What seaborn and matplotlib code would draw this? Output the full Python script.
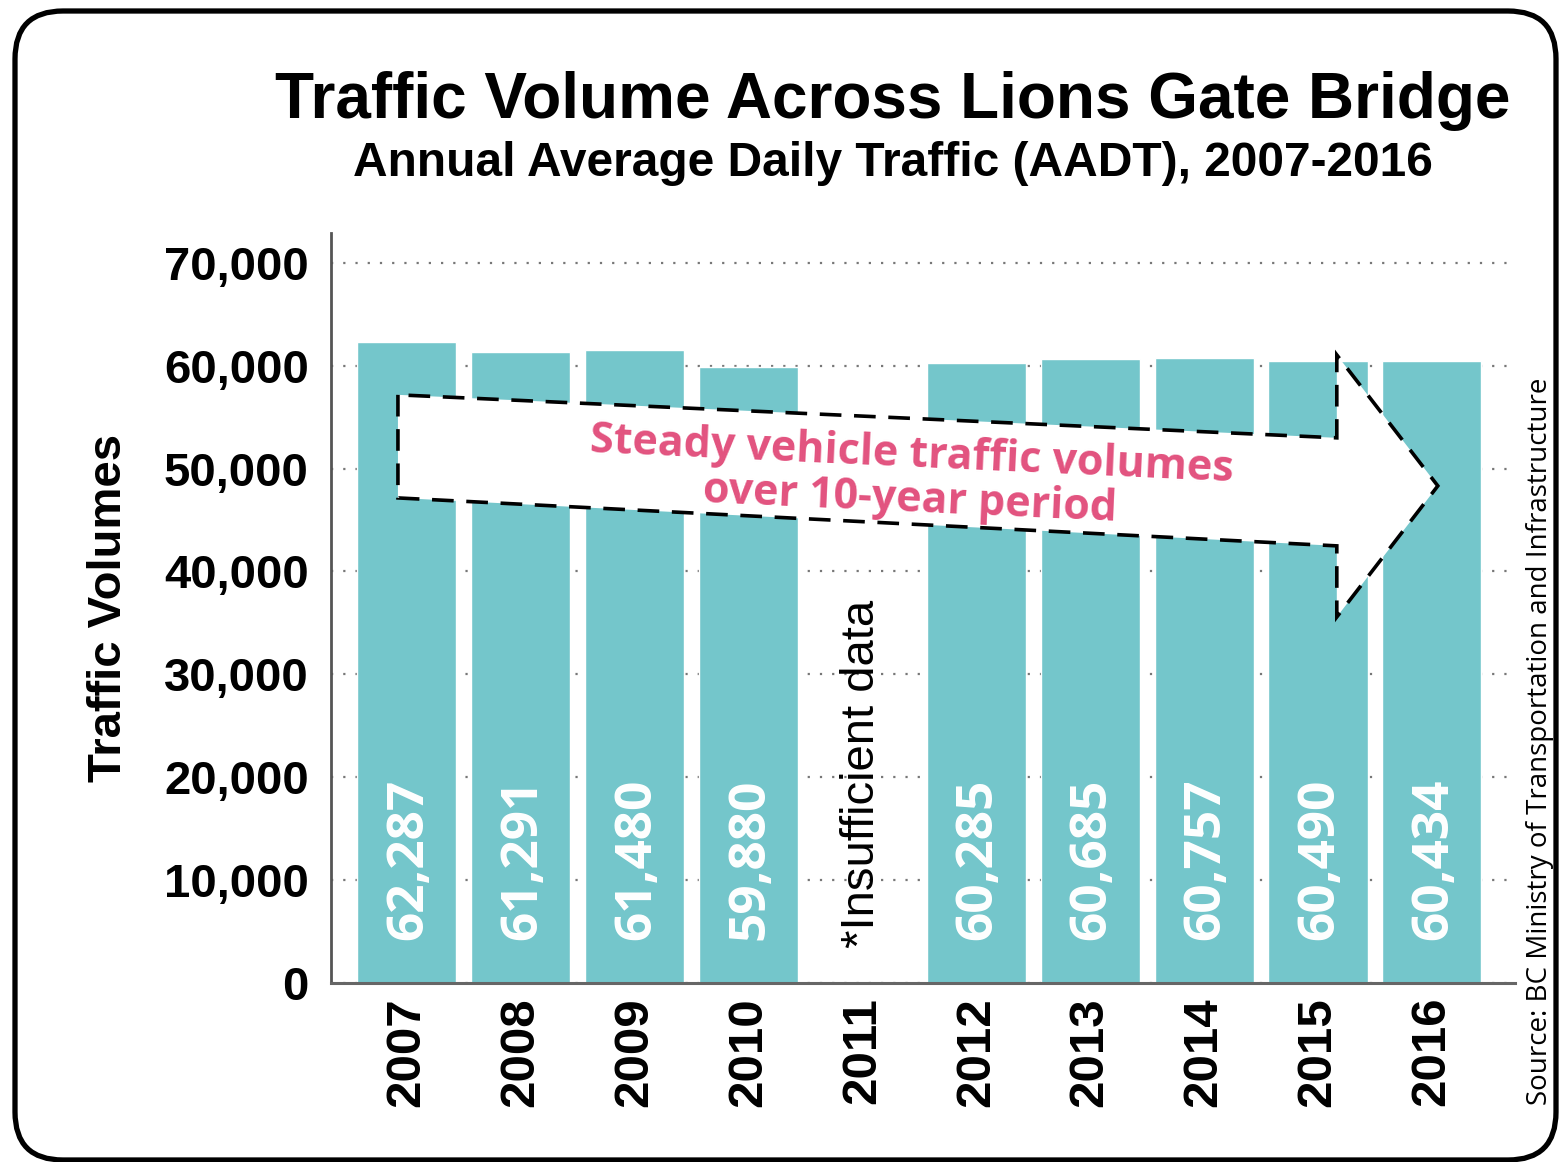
import matplotlib
matplotlib.use("Agg")
import matplotlib.pyplot as plt
import matplotlib.transforms as mtransforms
from matplotlib.patches import FancyBboxPatch, Polygon
import numpy as np
import pandas as pd
import seaborn as sns

# data
years = ["2007", "2008", "2009", "2010", "2011", "2012", "2013", "2014", "2015", "2016"]
aadt = [62287, 61291, 61480, 59880, np.nan, 60285, 60685, 60757, 60490, 60434]
y_ticks = [0, 10000, 20000, 30000, 40000, 50000, 60000, 70000]

BAR = "#74C6CB"
PINK = "#E2527F"

df = pd.DataFrame({"year": years, "aadt": aadt})

sns.set_style("white")
plt.rcParams["font.family"] = ["Liberation Sans", "DejaVu Sans"]
plt.rcParams["text.color"] = "black"
plt.rcParams["axes.labelcolor"] = "black"
plt.rcParams["xtick.color"] = "black"
plt.rcParams["ytick.color"] = "black"

fig = plt.figure(figsize=(15.59, 11.62), dpi=100)
ax = fig.add_axes([0.2123, 0.154, 0.9718 - 0.2123, 0.7995 - 0.154])

sns.barplot(data=df, x="year", y="aadt", order=years, color=BAR, saturation=1,
            width=0.87, ax=ax, zorder=2)

ax.set_xlim(-0.667, 9.73)
ax.set_ylim(0, 72900)
ax.set_yticks(y_ticks)
ax.set_yticklabels(["{:,}".format(v) for v in y_ticks], fontsize=34, fontweight="bold")
ax.set_xticks(range(len(years)))
ax.set_xticklabels(years, rotation=90, fontsize=35.5, fontweight="bold")
ax.tick_params(axis="y", length=0, pad=16)
ax.tick_params(axis="x", length=0, pad=10)
ax.set_xlabel("")
ax.set_ylabel("Traffic Volumes", fontsize=34, fontweight="bold", labelpad=24)

ax.yaxis.grid(True, color="#777777", linestyle=(0, (1, 4.5)), linewidth=1.6)
ax.set_axisbelow(True)
for s in ["top", "right"]:
    ax.spines[s].set_visible(False)
ax.spines["left"].set_color("#555555")
ax.spines["left"].set_linewidth(2)
ax.spines["bottom"].set_color("#666666")
ax.spines["bottom"].set_linewidth(2.2)

# value labels inside bars
for i, v in enumerate(aadt):
    if np.isnan(v):
        ax.text(i, 3400, "*Insufficient data", rotation=90, ha="center", va="bottom",
                fontsize=34, color="black", zorder=4)
    else:
        ax.text(i + 0.02, 4200, "{:,}".format(int(v)), rotation=90, ha="center",
                va="bottom", fontsize=37, fontweight="bold", color="white",
                family=["Open Sans", "DejaVu Sans"], zorder=4)

# dashed trend arrow
arrow = Polygon([(-0.079, 57170), (-0.079, 47150), (8.165, 42490), (8.165, 35580),
                 (9.052, 48320), (8.165, 61050), (8.165, 52990)],
                closed=True, facecolor="white", edgecolor="black", linewidth=2.6,
                linestyle=(0, (6, 3.5)), zorder=3)
ax.add_patch(arrow)
ax.text(4.425, 49100, "Steady vehicle traffic volumes\nover 10-year period",
        rotation=-2.6, rotation_mode="anchor", ha="center", va="center",
        multialignment="center", fontsize=31, fontweight="bold", color=PINK,
        family=["Open Sans", "DejaVu Sans"], linespacing=1.05, zorder=5)

fig.text(0.5726, 0.9135, "Traffic Volume Across Lions Gate Bridge", ha="center",
         va="center", fontsize=46, fontweight="bold")
fig.text(0.5726, 0.8595, "Annual Average Daily Traffic (AADT), 2007-2016", ha="center",
         va="center", fontsize=34.5, fontweight="bold")
fig.text(0.9878, 0.362, "Source: BC Ministry of Transportation and Infrastructure",
         rotation=90, ha="center", va="center", fontsize=20,
         family=["Open Sans", "DejaVu Sans"])

# rounded frame around the whole graphic
frame = FancyBboxPatch((15, 2), 1541, 1149, boxstyle="round,pad=0,rounding_size=48",
                       transform=mtransforms.IdentityTransform(), facecolor="none",
                       edgecolor="black", linewidth=3.8, zorder=10)
fig.patches.append(frame)

fig.savefig("out.png", dpi=100)
